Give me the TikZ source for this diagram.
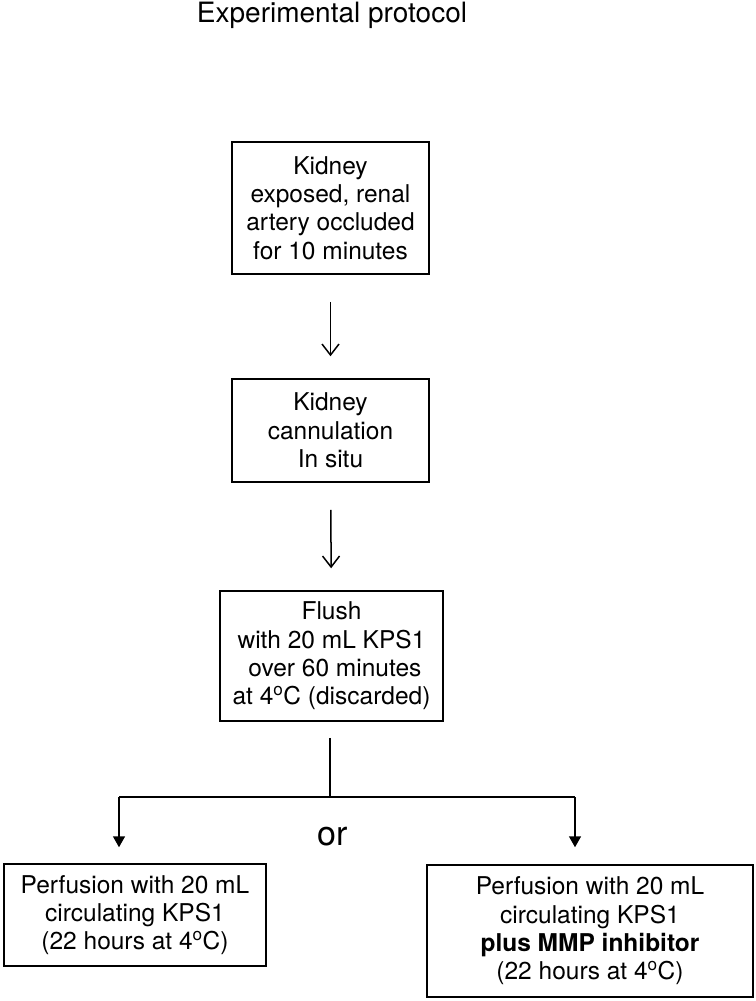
\documentclass[tikz,border=0pt]{standalone}
\usepackage{fontspec}
\setmainfont{TeX Gyre Heros}
\usetikzlibrary{arrows.meta}
\tikzstyle{stage}=[draw, line width=1.5pt, align=center, inner sep=2pt, font=\fontsize{24.5}{28.3}\selectfont]
\tikzstyle{gap}=[line width=1.5pt, shorten <=27pt, shorten >=22pt]
\tikzstyle{barb}=[-{Straight Barb[length=11pt,width=17pt,line width=1.5pt]}]
\tikzstyle{tri}=[-{Triangle[length=11pt,width=12pt]}]
\begin{document}
\begin{tikzpicture}[x=1pt, y=-1pt]
					\useasboundingbox (0,0) rectangle (755,1001);
					\node[anchor=base, font=\fontsize{28}{32}\selectfont] (title) at (332,23) {Experimental protocol};
					\node[stage, minimum width=197pt, minimum height=132pt] (kidney) at (330.5,208) {Kidney\\exposed, renal\\artery occluded\\for 10 minutes};
					\node[stage, minimum width=197pt, minimum height=103pt] (cannul) at (330.5,430.5) {Kidney\\cannulation\\In situ};
					\node[stage, minimum width=223pt, minimum height=130pt] (flush) at (331.5,656) {Flush\\with 20 mL KPS1\\ \ over 60 minutes\\at 4\textsuperscript{o}C (discarded)};
					\node[stage, minimum width=262pt, minimum height=102pt] (perfA) at (135,915) {Perfusion with 20 mL\\circulating KPS1\\(22 hours at 4\textsuperscript{o}C)};
					\node[stage, minimum width=326pt, minimum height=132pt] (perfB) at (590,931) {Perfusion with 20 mL\\circulating KPS1\\\textbf{plus MMP inhibitor}\\(22 hours at 4\textsuperscript{o}C)};
					\node[anchor=base, font=\fontsize{34}{40}\selectfont] (or) at (333,845) {or};
					\coordinate (fork) at (330,797);
					\coordinate (forkL) at (119,797);
					\coordinate (forkR) at (575,797);
					\draw[gap, barb] (kidney) -- (cannul);
					\draw[gap, barb] (cannul) -- (flush);
					\draw[line width=1.5pt, shorten <=16pt] (flush.south -| fork) -- (fork);
					\draw[line width=1.5pt] (forkL) -- (forkR);
					\draw[line width=1.5pt, tri, shorten >=16pt] (forkL) -- (forkL |- perfA.north);
					\draw[line width=1.5pt, tri, shorten >=17pt] (forkR) -- (forkR |- perfB.north);
				\end{tikzpicture}
\end{document}
